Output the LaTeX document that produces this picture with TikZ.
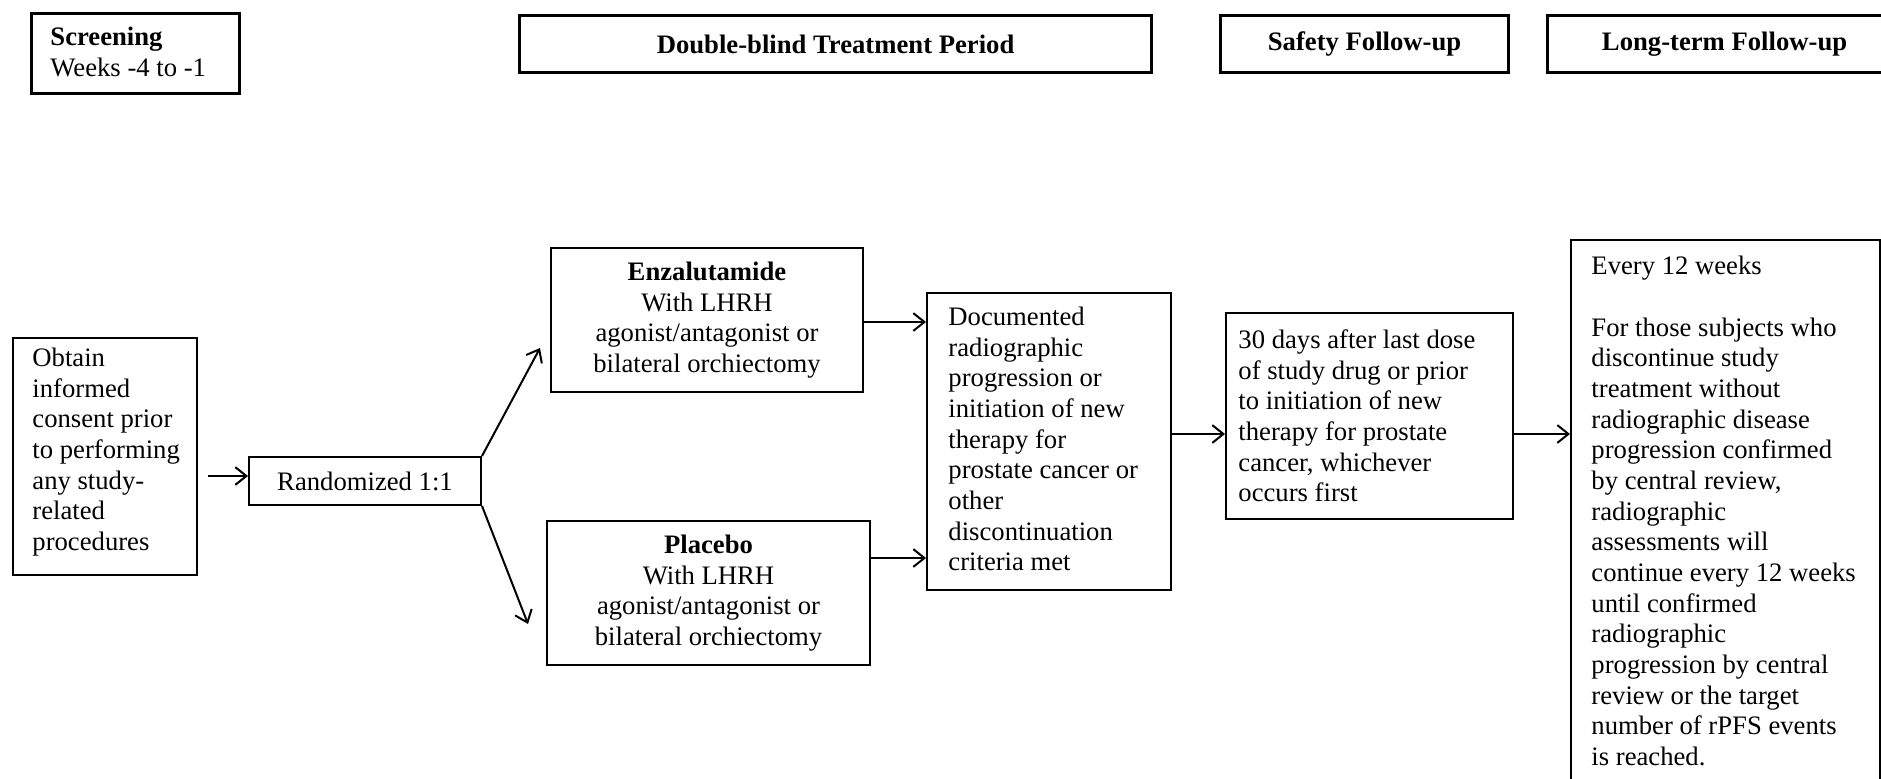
\documentclass[tikz,border=0pt]{standalone}
\usepackage{fontspec}
\setmainfont{Liberation Serif}
\usetikzlibrary{arrows.meta}
\newcommand\diagfont{\fontsize{12}{13.8}\selectfont}
\begin{document}
\begin{tikzpicture}[x=0.45pt,y=-0.45pt,
 box/.style={draw, line width=0.9pt, inner sep=0pt, anchor=north west, font=\diagfont, align=center},
 hbox/.style={box, line width=1.4pt, font=\diagfont\bfseries},
 txt/.style={inner sep=0pt, align=left, font=\diagfont},
 arr/.style={line width=0.9pt, -{Straight Barb[length=5pt,width=8pt,line width=0.9pt]}}
]
\clip (0,0) rectangle (1881,778);
\fill[white] (0,0) rectangle (1881,778);

% header boxes
\node[hbox, minimum width=93.6pt, minimum height=36pt] (scr) at (30,12) {};
\node[txt, anchor=west] (scrt) at (50,52) {\textbf{Screening}\\Weeks -4 to -1};
\node[hbox, minimum width=284.4pt, minimum height=25.65pt] (dbl) at (518,14) {Double-blind Treatment Period};
\node[hbox, minimum width=129.6pt, minimum height=25.65pt] (saf) at (1219,14) {Safety Follow-up};
\node[hbox, minimum width=159.3pt, minimum height=25.65pt] (ltf) at (1546,14) {Long-term Follow-up};

% flow boxes
\node[box, minimum width=82.8pt, minimum height=106.65pt] (obt) at (12,337) {};
\node[txt, anchor=west] (obtt) at (32,452) {Obtain\\informed\\consent prior\\to performing\\any study-\\related\\procedures};

\node[box, minimum width=104.4pt, minimum height=21.6pt] (rnd) at (248,456) {Randomized 1:1};

\node[box, minimum width=140.4pt, minimum height=64.8pt] (enz) at (550,247) {\textbf{Enzalutamide}\\With LHRH\\agonist/antagonist or\\bilateral orchiectomy};
\node[box, minimum width=145.35pt, minimum height=64.8pt] (plc) at (546,520) {\textbf{Placebo}\\With LHRH\\agonist/antagonist or\\bilateral orchiectomy};

\node[box, minimum width=109.8pt, minimum height=133.65pt] (doc) at (926,292) {};
\node[txt, anchor=west] (doct) at (948,439) {Documented\\radiographic\\progression or\\initiation of new\\therapy for\\prostate cancer or\\other\\discontinuation\\criteria met};

\node[box, minimum width=129.15pt, minimum height=92.7pt] (day) at (1225,312) {};
\node[txt, anchor=west] (dayt) at (1238,416) {30 days after last dose\\of study drug or prior\\to initiation of new\\therapy for prostate\\cancer, whichever\\occurs first};

\node[box, minimum width=139.05pt, minimum height=270pt] (ltb) at (1570,239) {};
\node[txt, anchor=north west] (ltbt) at (1591,256) {Every 12 weeks\\[13.8pt]For those subjects who\\discontinue study\\treatment without\\radiographic disease\\progression confirmed\\by central review,\\radiographic\\assessments will\\continue every 12 weeks\\until confirmed\\radiographic\\progression by central\\review or the target\\number of rPFS events\\is reached.};

% connectors
\coordinate (o1) at (208,476);
\draw[arr] (o1) -- (o1 -| rnd.west);
\coordinate (e1) at (540,348);
\draw[arr] (rnd.north east) -- (e1);
\coordinate (p1) at (528,624);
\draw[arr] (rnd.south east) -- (p1);
\coordinate (y1) at (0,322);
\draw[arr] (enz.east |- y1) -- (doc.west |- y1);
\coordinate (y2) at (0,558);
\draw[arr] (plc.east |- y2) -- (doc.west |- y2);
\coordinate (y3) at (0,434);
\draw[arr] (doc.east |- y3) -- (day.west |- y3);
\draw[arr] (day.east |- y3) -- (ltb.west |- y3);
\end{tikzpicture}
\end{document}
